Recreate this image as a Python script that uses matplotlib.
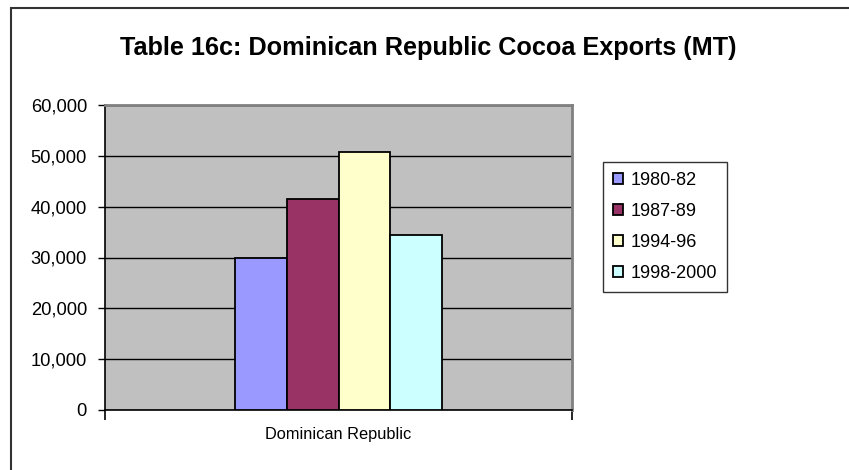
import matplotlib.pyplot as plt
from matplotlib.patches import Rectangle
from matplotlib.ticker import FuncFormatter

plt.rcParams['font.family'] = ['Liberation Sans', 'DejaVu Sans']

category = "Dominican Republic"
periods = ["1980-82", "1987-89", "1994-96", "1998-2000"]
exports = [30000, 41500, 50700, 34500]
colors = ["#9999FF", "#993366", "#FFFFCC", "#CCFFFF"]

W, H = 849, 470
fig = plt.figure(figsize=(W / 100, H / 100), dpi=100)

# chart-area frame (only top/left edges fall inside the image)
fig.patches.append(Rectangle((11 / W, -0.1), 1.2, (H - 8) / H + 0.1,
                             transform=fig.transFigure, fill=False,
                             edgecolor="#333333", linewidth=1.5))

ax = fig.add_axes([105 / W, (H - 410) / H, 467 / W, 305 / H])
ax.set_facecolor("#C0C0C0")

bw = 0.1113
offsets = [(i - (len(periods) - 1) / 2) * bw for i in range(len(periods))]
for off, val, col, lab in zip(offsets, exports, colors, periods):
    ax.bar(off, val, width=bw, color=col, edgecolor="black", linewidth=1.3,
           label=lab, zorder=3)

ax.set_xlim(-0.5, 0.5)
ax.set_ylim(0, 60000)
ax.set_yticks(range(0, 60001, 10000))
ax.yaxis.set_major_formatter(FuncFormatter(lambda v, p: f"{int(v):,}"))
ax.grid(axis="y", color="black", linewidth=1, zorder=1)
ax.tick_params(axis="y", direction="out", length=5, width=1, labelsize=13.2, pad=8)

ax.set_xticks([0])
ax.set_xticklabels([category])
ax.set_xticks([-0.5, 0.5], minor=True)
ax.tick_params(axis="x", which="major", length=0, labelsize=11.8, pad=12)
ax.tick_params(axis="x", which="minor", direction="out", length=7, width=1.2)

for s in ("left", "bottom"):
    ax.spines[s].set_color("black")
    ax.spines[s].set_linewidth(1.2)
for s in ("top", "right"):
    ax.spines[s].set_color("#808080")
    ax.spines[s].set_linewidth(2)

fig.text(428 / W, 1 - 48 / H, "Table 16c: Dominican Republic Cocoa Exports (MT)",
         ha="center", va="center", fontsize=18.2, fontweight="bold")

leg = fig.legend(loc="upper left", bbox_to_anchor=(603 / W, 1 - 162 / H),
                 frameon=True, fancybox=False, edgecolor="black", fontsize=13,
                 handlelength=0.55, handleheight=0.55, handletextpad=0.45,
                 labelspacing=0.78, borderpad=0.55, borderaxespad=0)
leg.get_frame().set_linewidth(1)

fig.savefig("out.png", dpi=100)
